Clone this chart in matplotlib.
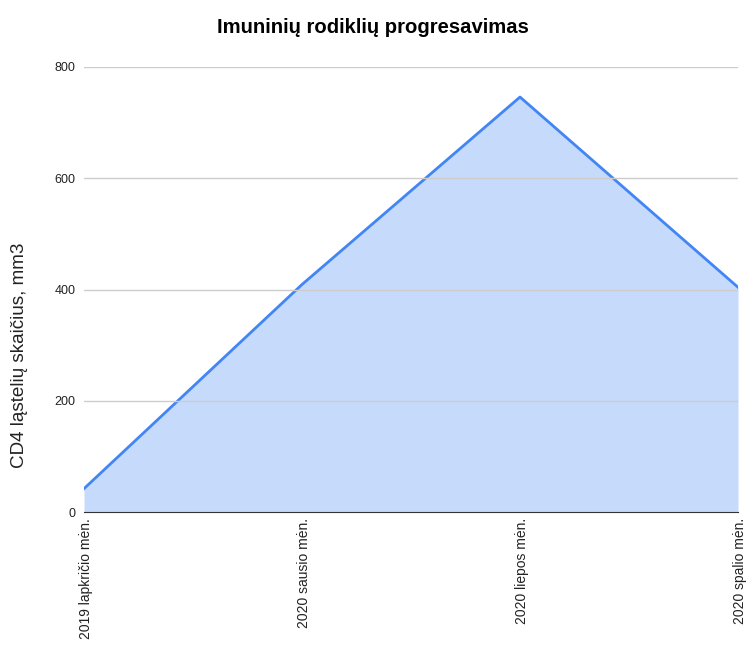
import matplotlib.pyplot as plt
from matplotlib.transforms import ScaledTranslation

plt.rcParams['font.family'] = ['Liberation Sans', 'DejaVu Sans']

periods = ['2019 lapkričio mėn.', '2020 sausio mėn.', '2020 liepos mėn.', '2020 spalio mėn.']
cd4_counts = [42, 409, 746, 404]
y_ticks = [0, 200, 400, 600, 800]

fig = plt.figure(figsize=(7.46, 6.46), dpi=100)
ax = fig.add_axes([0.1126, 0.2074, 0.8767, 0.6889])

x = list(range(len(periods)))
ax.fill_between(x, cd4_counts, 0, color='#c6dafc', linewidth=0)
ax.plot(x, cd4_counts, color='#4285f4', linewidth=2)

ax.set_xlim(0, len(periods) - 1)
ax.set_ylim(0, 800)
ax.set_yticks(y_ticks)
ax.set_yticklabels([str(v) for v in y_ticks], fontsize=9, color='#222222')
ax.set_xticks(x)
ax.set_xticklabels([])

# category labels, rotated and set a touch right of each point
shift = ScaledTranslation(2 / 100, -6 / 100, fig.dpi_scale_trans)
for xi, name in zip(x, periods):
    ax.text(xi, 0, name, rotation=90, ha='center', va='top', fontsize=10,
            color='#222222', transform=ax.get_xaxis_transform() + shift)

ax.grid(axis='y', color='#cccccc', linewidth=1)
ax.set_axisbelow(False)
for side in ['top', 'right', 'left']:
    ax.spines[side].set_visible(False)
ax.spines['bottom'].set_color('#333333')
ax.tick_params(axis='both', length=0, pad=6)

fig.text(20 / 746, 1 - 355 / 646, 'CD4 ląstelių skaičius, mm3', rotation=90,
         ha='center', va='center', fontsize=13.6, color='#222222')
fig.text(0.5, 0.957, 'Imuninių rodiklių progresavimas', ha='center', va='center',
         fontsize=14.6, fontweight='bold')

fig.savefig('out.png', dpi=100)
